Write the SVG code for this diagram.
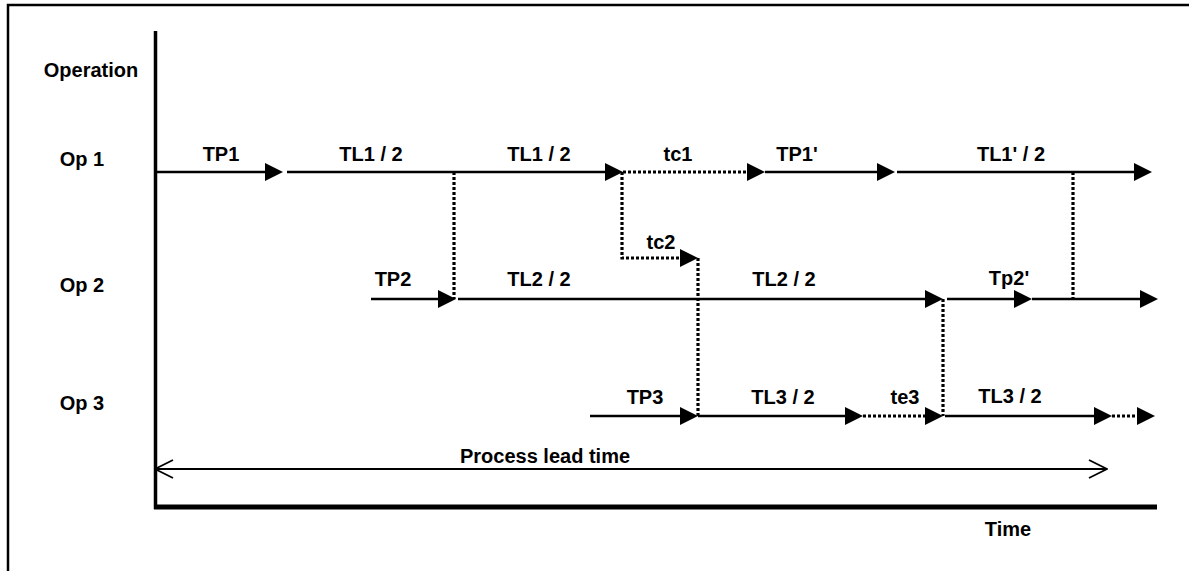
<svg xmlns="http://www.w3.org/2000/svg" width="1189" height="571" viewBox="0 0 1189 571">
<style>
  text { font-family: "Liberation Sans", Arial, sans-serif; font-weight: bold; font-size: 20px; fill: #000; text-anchor: middle; }
  .solid { stroke: #000; stroke-width: 2.5; fill: none; marker-end: url(#tri); }
  .dot { stroke: #000; stroke-width: 3.2; stroke-dasharray: 3 2; fill: none; }
  .dota { stroke: #000; stroke-width: 3.2; stroke-dasharray: 3 2; fill: none; marker-end: url(#tri); }
</style>
<defs>
  <marker id="tri" markerUnits="userSpaceOnUse" markerWidth="18" markerHeight="18" refX="0" refY="9" orient="auto" viewBox="0 0 18 18">
    <path d="M0,0 L18,9 L0,18 Z" fill="#000"/>
  </marker>
  <marker id="open" markerUnits="userSpaceOnUse" markerWidth="20" markerHeight="20" refX="19" refY="10" orient="auto-start-reverse" viewBox="0 0 20 20">
    <path d="M1,1 L19,10 L1,19" fill="none" stroke="#000" stroke-width="1.8"/>
  </marker>
</defs>
<rect x="8" y="5" width="1200" height="600" fill="none" stroke="#000" stroke-width="2.5"/>
<g id="axes">
  <line x1="155.5" y1="31" x2="155.5" y2="509" stroke="#000" stroke-width="3.5"/>
  <line x1="154" y1="507" x2="1157" y2="507" stroke="#000" stroke-width="5"/>
</g>
<g id="labels">
  <text id="operation" x="91" y="77">Operation</text>
  <text id="op1" x="82" y="166">Op 1</text>
  <text id="op2" x="82" y="292">Op 2</text>
  <text id="op3" x="82" y="410">Op 3</text>
  <text id="time" x="1008" y="536">Time</text>
</g>
<g id="connectors">
  <!-- Op 1 -->
  <line class="solid" x1="157" y1="172" x2="265" y2="172"/>
  <line class="solid" x1="287" y1="172" x2="605" y2="172"/>
  <line class="dota" x1="623" y1="172" x2="747" y2="172"/>
  <line class="solid" x1="765" y1="172" x2="877" y2="172"/>
  <line class="solid" x1="897" y1="172" x2="1134" y2="172"/>
  <line class="dot" x1="454" y1="172" x2="454" y2="299"/>
  <line class="dot" x1="1073" y1="172" x2="1073" y2="299"/>
  <path class="dota" d="M622,172 V258 H680"/>
  <line class="dot" x1="698" y1="258" x2="698" y2="416"/>
  <!-- Op 2 -->
  <line class="solid" x1="371" y1="299" x2="438" y2="299"/>
  <line class="solid" x1="458" y1="299" x2="925" y2="299"/>
  <line class="solid" x1="947" y1="299" x2="1014" y2="299"/>
  <line class="solid" x1="1032" y1="299" x2="1140" y2="299"/>
  <line class="dot" x1="943" y1="299" x2="943" y2="416"/>
  <!-- Op 3 -->
  <line class="solid" x1="590" y1="416" x2="680" y2="416"/>
  <line class="solid" x1="698" y1="416" x2="845" y2="416"/>
  <line class="dota" x1="863" y1="416" x2="925" y2="416"/>
  <line class="solid" x1="945" y1="416" x2="1094" y2="416"/>
  <line class="dota" x1="1112" y1="416" x2="1137" y2="416"/>
  <!-- lead time -->
  <line x1="155" y1="469" x2="1107" y2="469" stroke="#000" stroke-width="2" marker-start="url(#open)" marker-end="url(#open)"/>
</g>
<g id="segment-labels">
  <text x="221" y="161">TP1</text>
  <text x="371" y="161">TL1 / 2</text>
  <text x="539" y="161">TL1 / 2</text>
  <text x="678" y="161">tc1</text>
  <text x="797" y="161">TP1'</text>
  <text x="1011" y="161">TL1' / 2</text>
  <text x="661" y="249">tc2</text>
  <text x="393" y="286">TP2</text>
  <text x="539" y="286">TL2 / 2</text>
  <text x="784" y="286">TL2 / 2</text>
  <text x="1009" y="285">Tp2'</text>
  <text x="645" y="404">TP3</text>
  <text x="783" y="404">TL3 / 2</text>
  <text x="905" y="404">te3</text>
  <text x="1010" y="403">TL3 / 2</text>
  <text x="545" y="463">Process lead time</text>
</g>
</svg>
